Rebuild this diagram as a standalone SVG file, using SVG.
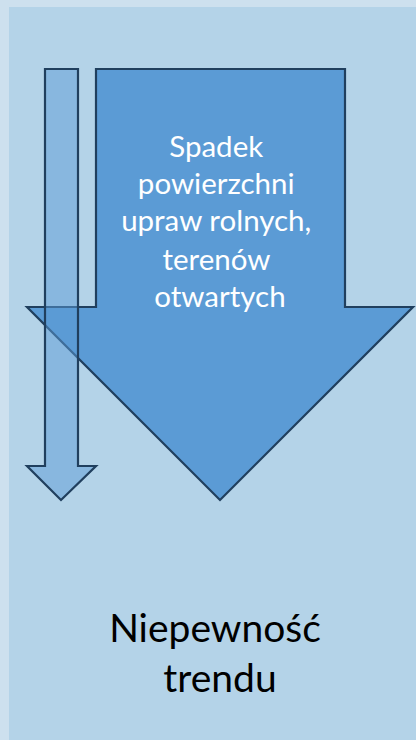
<svg xmlns="http://www.w3.org/2000/svg" width="416" height="740" viewBox="0 0 416 740">
<style>
.arrow{stroke:#203f5e;stroke-width:2.2;stroke-linejoin:miter}
.lbl{font-family:Lato,"Open Sans","Liberation Sans",sans-serif;text-anchor:middle}
</style>
<rect x="0" y="0" width="416" height="740" fill="#cde0ee"/>
<rect x="9" y="7" width="407" height="733" fill="#b4d3e8"/>
<g id="big-arrow">
<polygon class="arrow" fill="#5b9bd5" points="96,69 345,69 345,307 413,307 220,500 27,307 96,307"/>
<text class="lbl" fill="#ffffff" font-size="29.5">
<tspan x="220" y="157">Spadek</tspan>
<tspan x="220" y="194">powierzchni</tspan>
<tspan x="220" y="231">upraw rolnych,</tspan>
<tspan x="220" y="270">terenów</tspan>
<tspan x="220" y="307">otwartych</tspan>
</text>
</g>
<g id="small-arrow">
<polygon class="arrow" fill="#5b9bd5" fill-opacity="0.5" points="45,69 78,69 78,466 96,466 61,500 27,466 45,466"/>
</g>
<g id="label">
<text class="lbl" fill="#000000" font-size="39">
<tspan x="220" y="642">Niepewność</tspan>
<tspan x="220" y="692">trendu</tspan>
</text>
</g>
</svg>
